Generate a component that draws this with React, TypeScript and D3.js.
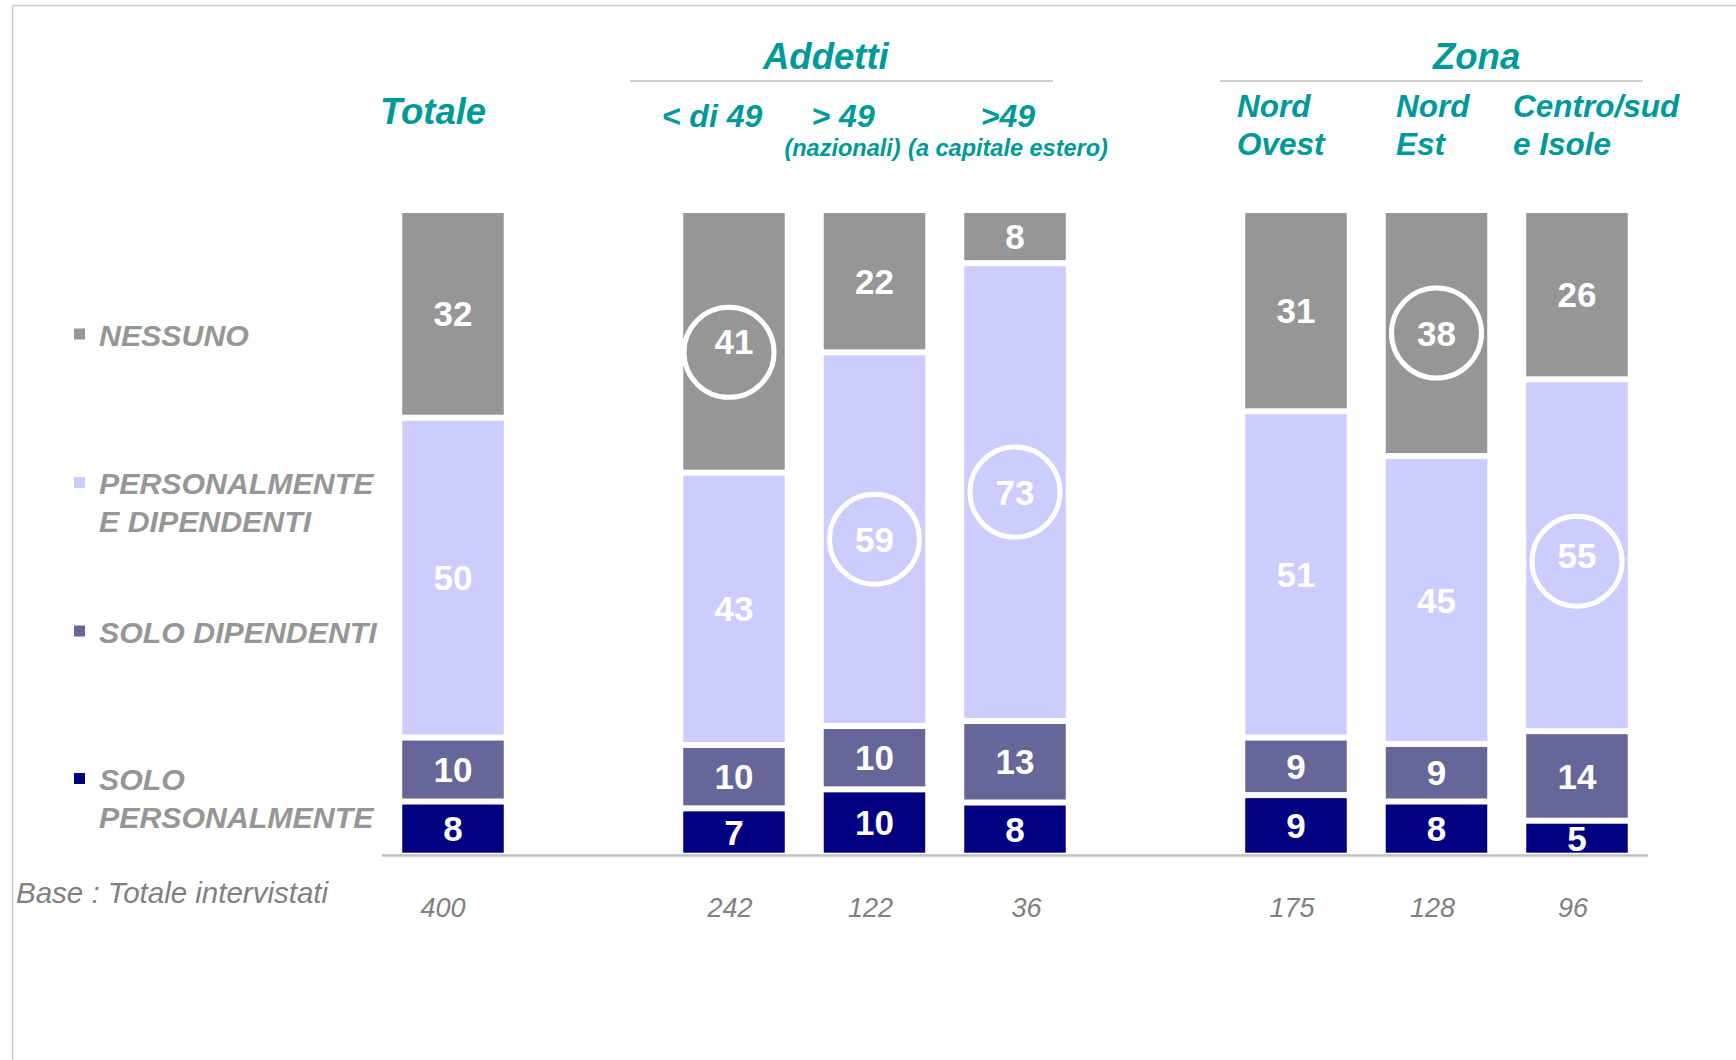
import React from "react";
import * as d3 from "d3";

const categories = ["Totale", "< di 49", "> 49 (nazionali)", ">49 (a capitale estero)", "Nord Ovest", "Nord Est", "Centro/sud e Isole"];
const slots = ["Totale", "gap1", "< di 49", "> 49 (nazionali)", ">49 (a capitale estero)", "gap2", "Nord Ovest", "Nord Est", "Centro/sud e Isole"];
const soloPersonalmente = [8, 7, 10, 8, 9, 8, 5];
const soloDipendenti = [10, 10, 10, 13, 9, 9, 14];
const persEDipendenti = [50, 43, 59, 73, 51, 45, 55];
const nessuno = [32, 41, 22, 8, 31, 38, 26];
const bases = [400, 242, 122, 36, 175, 128, 96];
const seriesKeys = ["soloPers", "soloDip", "persDip", "nessuno"];
const seriesColors = ["#000080", "#666699", "#ccccff", "#969696"];
const legendLabels = [["NESSUNO"], ["PERSONALMENTE", "E DIPENDENTI"], ["SOLO DIPENDENTI"], ["SOLO", "PERSONALMENTE"]];
const legendColors = ["#969696", "#ccccff", "#666699", "#000080"];
const highlights = [
  { cat: "< di 49", key: "nessuno" },
  { cat: "> 49 (nazionali)", key: "persDip" },
  { cat: ">49 (a capitale estero)", key: "persDip" },
  { cat: "Nord Est", key: "nessuno" },
  { cat: "Centro/sud e Isole", key: "persDip" },
];

// layout tweaks (styling only)
const circleNudge: Record<string, [number, number]> = {
  "< di 49": [-5, 11],
  "Centro/sud e Isole": [0, 6],
};
const baseNudge: Record<string, number> = {
  Totale: -6,
  ">49 (a capitale estero)": 15.5,
};

const TEAL = "#009999";
const FONT = "'Liberation Sans', Arial, sans-serif";

export default function App() {
  const W = 1736, H = 1060;
  const x = d3.scalePoint<string>().domain(slots).range([453, 1577]);
  const y = d3.scaleLinear().domain([0, 1]).range([852.7, 213]);
  const barW = 101.5;
  const gap = 6;

  const rows = categories.map((c, i) => ({
    cat: c,
    soloPers: soloPersonalmente[i],
    soloDip: soloDipendenti[i],
    persDip: persEDipendenti[i],
    nessuno: nessuno[i],
  }));
  const stack = d3.stack<any>().keys(seriesKeys).offset(d3.stackOffsetExpand);
  const layers = stack(rows);

  const segs: any[] = [];
  layers.forEach((layer, li) => {
    layer.forEach((d: any) => {
      const isTop = li === layers.length - 1;
      const isBottom = li === 0;
      const y1 = y(d[1]) + (isTop ? 0 : gap / 2);
      const y0 = y(d[0]) - (isBottom ? 0 : gap / 2);
      const cx = x(d.data.cat)!;
      segs.push({
        key: layer.key,
        cat: d.data.cat,
        value: d.data[layer.key],
        x: cx - barW / 2,
        cx,
        y: y1,
        h: y0 - y1,
        cy: (y0 + y1) / 2,
        color: seriesColors[li],
      });
    });
  });

  const legendY = [345.5, 494, 642.5, 790];
  const legendLine = 37.5;

  return (
    <svg width={W} height={H} style={{ position: "fixed", left: 0, top: 0, background: "#fff" }} fontFamily={FONT}>
      <rect x={0} y={0} width={W} height={H} fill="#fff" />
      {/* frame */}
      <line x1={12.5} y1={5.5} x2={W} y2={5.5} stroke="#cccccc" strokeWidth={1.5} />
      <line x1={12.5} y1={5.5} x2={12.5} y2={H} stroke="#cccccc" strokeWidth={1.5} />

      {/* group headers */}
      <text x={763} y={69.3} fontSize={36.5} fontWeight="bold" fontStyle="italic" fill={TEAL}>Addetti</text>
      <line x1={630} y1={81} x2={1053} y2={81} stroke="#d0d0d0" strokeWidth={2} />
      <text x={1433} y={69.3} fontSize={36.5} fontWeight="bold" fontStyle="italic" fill={TEAL}>Zona</text>
      <line x1={1220} y1={81} x2={1643} y2={81} stroke="#d0d0d0" strokeWidth={2} />

      {/* column headers */}
      <text x={380} y={124.3} fontSize={36.5} fontWeight="bold" fontStyle="italic" fill={TEAL}>Totale</text>
      <text x={x("< di 49")! - 22} y={126.7} fontSize={32} fontWeight="bold" fontStyle="italic" fill={TEAL} textAnchor="middle">&lt; di 49</text>
      <text x={x("> 49 (nazionali)")! - 63} y={126.7} fontSize={32} fontWeight="bold" fontStyle="italic" fill={TEAL}>&gt; 49</text>
      <text x={x("> 49 (nazionali)")! - 32} y={156} fontSize={23.5} fontWeight="bold" fontStyle="italic" fill={TEAL} textAnchor="middle">(nazionali)</text>
      <text x={x(">49 (a capitale estero)")! - 7} y={126.7} fontSize={32} fontWeight="bold" fontStyle="italic" fill={TEAL} textAnchor="middle">&gt;49</text>
      <text x={x(">49 (a capitale estero)")! - 7} y={156} fontSize={23.5} fontWeight="bold" fontStyle="italic" fill={TEAL} textAnchor="middle">(a capitale estero)</text>
      <text x={1237} y={117.3} fontSize={31.5} fontWeight="bold" fontStyle="italic" fill={TEAL}>Nord</text>
      <text x={1237} y={155} fontSize={31.5} fontWeight="bold" fontStyle="italic" fill={TEAL}>Ovest</text>
      <text x={1396} y={117.3} fontSize={31.5} fontWeight="bold" fontStyle="italic" fill={TEAL}>Nord</text>
      <text x={1396} y={155} fontSize={31.5} fontWeight="bold" fontStyle="italic" fill={TEAL}>Est</text>
      <text x={1513} y={117.3} fontSize={31.5} fontWeight="bold" fontStyle="italic" fill={TEAL}>Centro/sud</text>
      <text x={1513} y={155} fontSize={31.5} fontWeight="bold" fontStyle="italic" fill={TEAL}>e Isole</text>

      {/* legend */}
      {legendLabels.map((lines, i) => (
        <g key={i}>
          <rect x={74} y={legendY[i] - 17} width={11} height={11} fill={legendColors[i]} />
          {lines.map((t, j) => (
            <text key={j} x={99} y={legendY[i] + j * legendLine} fontSize={30.3} fontWeight="bold" fontStyle="italic" fill="#969696">{t}</text>
          ))}
        </g>
      ))}

      {/* bars */}
      {segs.map((s, i) => (
        <rect key={i} x={s.x} y={s.y} width={barW} height={Math.max(0, s.h)} fill={s.color} />
      ))}
      <defs>
        {segs.map((s, i) => (
          <clipPath id={`clip${i}`} key={i}>
            <rect x={s.x} y={s.y} width={barW} height={Math.max(0, s.h)} />
          </clipPath>
        ))}
      </defs>
      {segs.map((s, i) => (
        <text key={i} x={s.cx} y={s.cy} dy="0.36em" textAnchor="middle" fontSize={35} fontWeight="bold" fill="#ffffff" clipPath={`url(#clip${i})`}>{s.value}</text>
      ))}
      {highlights.map((h, i) => {
        const s = segs.find((d) => d.cat === h.cat && d.key === h.key);
        const n = circleNudge[h.cat] || [0, 0];
        return <circle key={i} cx={s.cx + n[0]} cy={s.cy + n[1]} r={45} fill="none" stroke="#ffffff" strokeWidth={5} />;
      })}

      {/* baseline */}
      <line x1={382} y1={855.5} x2={1648} y2={855.5} stroke="#c0c0c0" strokeWidth={2.5} />

      {/* base */}
      <text x={16} y={903} fontSize={29.5} fontStyle="italic" fill="#808080">Base : Totale intervistati</text>
      {categories.map((c, i) => (
        <text key={c} x={x(c)! - 4 + (baseNudge[c] || 0)} y={917} fontSize={27} fontStyle="italic" fill="#808080" textAnchor="middle">{bases[i]}</text>
      ))}
    </svg>
  );
}
